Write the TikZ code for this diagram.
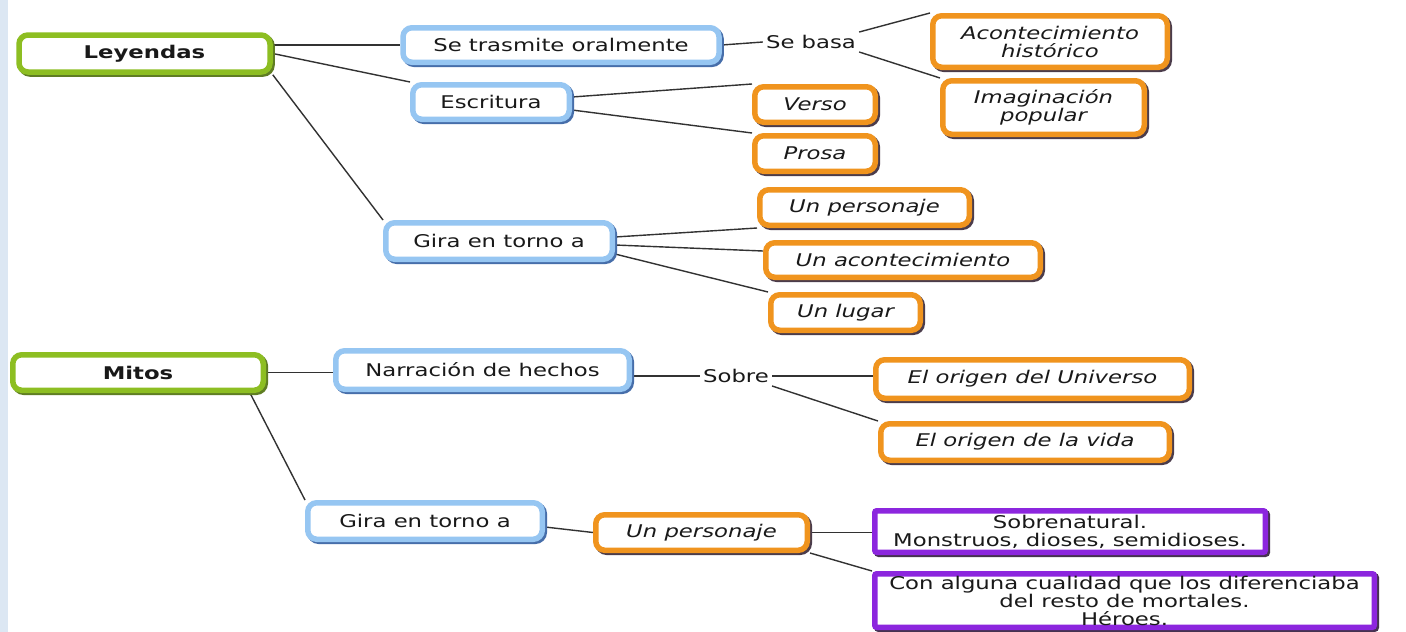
\documentclass[tikz,border=0pt]{standalone}
\usepackage{fontspec}
\setmainfont{DejaVu Sans}[FakeStretch=1.3, BoldFont={DejaVu Sans Bold}, ItalicFont={DejaVu Sans Oblique}]
\usetikzlibrary{shadows,backgrounds}
\definecolor{cgreen}{RGB}{141,190,34}
\definecolor{cgreensh}{RGB}{95,125,35}
\definecolor{cblue}{RGB}{150,198,242}
\definecolor{cbluesh}{RGB}{70,110,170}
\definecolor{corange}{RGB}{240,148,30}
\definecolor{corangesh}{RGB}{75,60,75}
\definecolor{cpurple}{RGB}{140,38,222}
\definecolor{cpurplesh}{RGB}{70,50,80}
\definecolor{cline}{RGB}{50,50,50}
\definecolor{ctext}{RGB}{25,25,25}
\definecolor{cstrip}{RGB}{220,231,243}
\tikzset{
  box/.style={rectangle, rounded corners=9pt, line width=5.5pt, fill=white, inner sep=0pt, align=center, text=ctext},
  gbox/.style={box, draw=cgreen, general shadow={shadow xshift=2pt, shadow yshift=-2pt, draw=cgreensh, fill=cgreensh, line width=5.5pt}},
  bbox/.style={box, draw=cblue, general shadow={shadow xshift=2pt, shadow yshift=-2pt, draw=cbluesh, fill=cbluesh, line width=5.5pt}},
  obox/.style={box, draw=corange, font=\fontsize{17.5}{18}\selectfont\itshape, general shadow={shadow xshift=2pt, shadow yshift=-2pt, draw=corangesh, fill=corangesh, line width=5.5pt}},
  pbox/.style={box, rounded corners=2pt, draw=cpurple, font=\fontsize{17.5}{18}\selectfont, general shadow={shadow xshift=2pt, shadow yshift=-2pt, draw=cpurplesh, fill=cpurplesh, line width=5.5pt}},
  lbl/.style={inner sep=3pt, text=ctext},
  conn/.style={draw=cline, line width=1.4pt},
}
\begin{document}
\begin{tikzpicture}[x=1pt, y=-1pt, font=\fontsize{17.5}{19}\selectfont]
\useasboundingbox (0,0) rectangle (1406,632);
% Leyendas branch
\node[gbox, minimum width=251pt, minimum height=37pt] (ley) at (144.5,53.5) {\textbf{Leyendas}};
\node[bbox, minimum width=316pt, minimum height=34.5pt] (tras) at (561,45) {Se trasmite oralmente};
\node[bbox, minimum width=156.5pt, minimum height=34.5pt] (escr) at (491,102) {Escritura};
\node[bbox, minimum width=226.5pt, minimum height=36.5pt] (gira1) at (499,241) {Gira en torno a};
\node[lbl] (sebasa) at (811,42) {Se basa};
\node[obox, minimum width=234.5pt, minimum height=51.5pt] (acont) at (1050,41.5) {Acontecimiento\\histórico};
\node[obox, minimum width=201.5pt, minimum height=53.5pt] (imag) at (1043.5,107.5) {Imaginación\\popular};
\node[obox, minimum width=120.5pt, minimum height=35.5pt] (verso) at (815,104.5) {Verso};
\node[obox, minimum width=120.5pt, minimum height=35.5pt] (prosa) at (815,153.5) {Prosa};
\node[obox, minimum width=209.5pt, minimum height=35.5pt] (pers1) at (864.5,207.5) {Un personaje};
\node[obox, minimum width=274.5pt, minimum height=34.5pt] (acontec) at (903,260) {Un acontecimiento};
\node[obox, minimum width=149.5pt, minimum height=35.5pt] (lugar) at (845.5,312.5) {Un lugar};
% Mitos branch
\node[gbox, minimum width=250.5pt, minimum height=35.5pt] (mitos) at (138,372.5) {\textbf{Mitos}};
\node[bbox, minimum width=293.5pt, minimum height=38.5pt] (narr) at (482.5,370) {Narración de hechos};
\node[bbox, minimum width=234.5pt, minimum height=36.5pt] (gira2) at (425,521) {Gira en torno a};
\node[lbl] (sobre) at (736,376) {Sobre};
\node[obox, minimum width=313.5pt, minimum height=38.5pt] (univ) at (1032.5,379) {El origen del Universo};
\node[obox, minimum width=288.5pt, minimum height=36.5pt] (vida) at (1025,442) {El origen de la vida};
\node[obox, minimum width=211.5pt, minimum height=35.5pt] (pers2) at (701.5,532.5) {Un personaje};
\node[pbox, minimum width=390.5pt, minimum height=41.5pt] (sobren) at (1070,531.5) {Sobrenatural.\\Monstruos, dioses, semidioses.};
\node[pbox, minimum width=499.5pt, minimum height=53.5pt] (con) at (1124.5,600.5) {Con alguna cualidad que los diferenciaba\\del resto de mortales.\\Héroes.};
\begin{scope}[on background layer]
\fill[white] (0,0) rectangle (1406,632);
\fill[cstrip] (0,0) rectangle (8,632);
\draw[conn] (ley.east |- tras.west) -- (tras.west);
\draw[conn] (ley.east) -- (escr.north west);
\draw[conn] (ley.south east) -- (gira1.north west);
\draw[conn] (tras.east) -- (sebasa.west);
\draw[conn] (sebasa.north east) -- (acont.north west);
\draw[conn] (sebasa.south east) -- (imag.north west);
\draw[conn] ([yshift=5pt]escr.east) -- (verso.north west);
\draw[conn] ([yshift=-8pt]escr.east) -- (prosa.north west);
\draw[conn] ([yshift=4pt]gira1.east) -- (pers1.south west);
\draw[conn] ([yshift=-4pt]gira1.east) -- ([yshift=9pt]acontec.west);
\draw[conn] ([yshift=-13pt]gira1.east) -- (lugar.north west);
\draw[conn] (mitos.east) -- (mitos.east -| narr.west);
\draw[conn] ([xshift=-16pt]mitos.south east) -- (gira2.north west);
\draw[conn] (narr.east |- sobre.west) -- (sobre.west);
\draw[conn] (sobre.east) -- (sobre.east -| univ.west);
\draw[conn] (sobre.south east) -- (vida.north west);
\draw[conn] ([yshift=-6pt]gira2.east) -- (pers2.west);
\draw[conn] (pers2.east) -- (pers2.east -| sobren.west);
\draw[conn] (pers2.south east) -- (con.north west);
\end{scope}
\end{tikzpicture}
\end{document}
